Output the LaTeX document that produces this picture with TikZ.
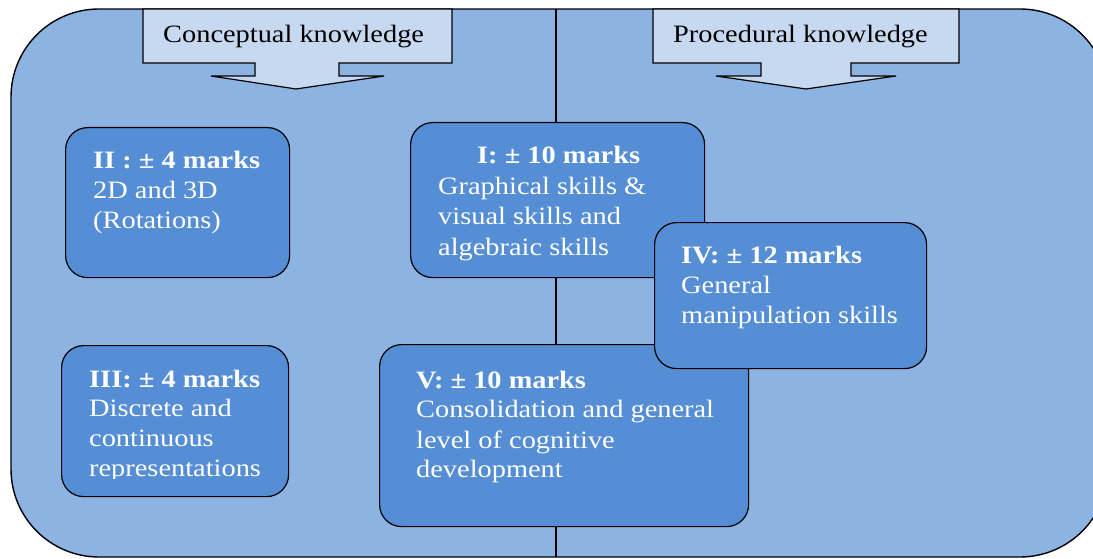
\documentclass[tikz,border=0pt]{standalone}
\usepackage{fontspec}
\setmainfont{Liberation Serif}[FakeStretch=1.135]
\definecolor{outerblue}{HTML}{8DB3E2}
\definecolor{innerblue}{HTML}{558ED5}
\definecolor{calloutblue}{HTML}{C6D9F1}
\begin{document}
\begin{tikzpicture}[x=1pt,y=-1pt,
  outerbox/.style={draw=black, line width=1.4pt, fill=outerblue, rounded corners=88pt},
  callout/.style={draw=black, line width=1.2pt, fill=calloutblue, line join=miter},
  innerbox/.style={draw=black, line width=1.2pt, fill=innerblue, rounded corners=22pt, anchor=north west, inner sep=0pt},
  txt/.style={inner sep=0pt, anchor=base west, font=\fontsize{25}{30}\selectfont},
  wtxt/.style={txt, text=white},
  divider/.style={draw=black, line width=1.2pt}]
\useasboundingbox (0,0) rectangle (1093,559);
\clip (0,0) rectangle (1093,559);
% outer rounded panel
\draw[outerbox] (11,9) rectangle (1108,557);
% vertical divider
\coordinate (divtop) at (556,9);
\coordinate (divbot) at (556,557);
\draw[divider] (divtop) -- (divbot);
% top callouts
\draw[callout] (143,9) -- (452,9) -- (452,63) -- (339,63) -- (339,76) -- (384,76) -- (296,89)
  -- (211,76) -- (255,76) -- (255,63) -- (143,63) -- cycle;
\node[txt] (concept) at (163,43) {Conceptual knowledge};
\draw[callout] (653,9) -- (959,9) -- (959,63) -- (851,63) -- (851,76) -- (896,76) -- (806,89)
  -- (716,76) -- (761,76) -- (761,63) -- (653,63) -- cycle;
\node[txt] (proc) at (673,43) {Procedural knowledge};
% box II
\node[innerbox, minimum width=224pt, minimum height=150pt] (II) at (65,127) {};
\node[wtxt] (IIa) at (93,169) {\textbf{II : ± 4 marks}};
\node[wtxt] (IIb) at (93,199) {2D and 3D};
\node[wtxt] (IIc) at (93,229) {(Rotations)};
% box III
\node[innerbox, minimum width=227pt, minimum height=151pt] (III) at (61,345) {};
\begin{scope}
\clip (61,345) rectangle (288,478);
\node[wtxt] (IIIa) at (89,387) {\textbf{III: ± 4 marks}};
\node[wtxt] (IIIb) at (89,416) {Discrete and};
\node[wtxt] (IIIc) at (89,446) {continuous};
\node[wtxt] (IIId) at (89,476) {representations};
\end{scope}
% box I
\node[innerbox, minimum width=294pt, minimum height=155pt] (I) at (410,122) {};
\node[wtxt] (Ia) at (477,164) {\textbf{I: ± 10 marks}};
\node[wtxt] (Ib) at (438,194) {Graphical skills \&};
\node[wtxt] (Ic) at (438,224) {visual skills and};
\node[wtxt] (Id) at (438,255) {algebraic skills};
% box V
\node[innerbox, minimum width=369pt, minimum height=182pt] (V) at (379,344) {};
\node[wtxt] (Va) at (416,388) {\textbf{V: ± 10 marks}};
\node[wtxt] (Vb) at (416,417) {Consolidation and general};
\node[wtxt] (Vc) at (416,448) {level of cognitive};
\node[wtxt] (Vd) at (416,477) {development};
% box IV
\node[innerbox, minimum width=272pt, minimum height=146pt] (IV) at (654,222) {};
\node[wtxt] (IVa) at (681,263) {\textbf{IV: ± 12 marks}};
\node[wtxt] (IVb) at (681,293) {General};
\node[wtxt] (IVc) at (681,323) {manipulation skills};
\end{tikzpicture}
\end{document}
